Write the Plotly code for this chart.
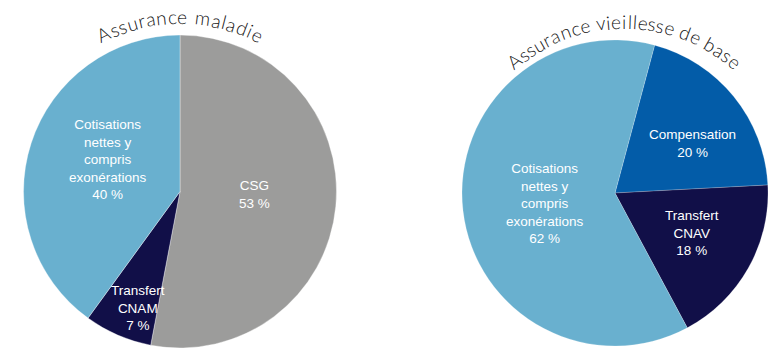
import math
import plotly.graph_objects as go

W, H = 768, 348

# ---- data ----
left_title = "Assurance maladie"
left_labels = ["CSG", "Transfert<br>CNAM", "Cotisations<br>nettes y<br>compris<br>exonérations"]
left_values = [53, 7, 40]

right_title = "Assurance vieillesse de base"
right_labels = ["Compensation", "Transfert<br>CNAV", "Cotisations<br>nettes y<br>compris<br>exonérations"]
right_values = [20, 18, 62]

# ---- styles ----
GRAY = "#9c9c9b"
NAVY = "#110f48"
LIGHT = "#69b0cf"
BLUE = "#035ca8"
left_colors = [GRAY, NAVY, LIGHT]
right_colors = [BLUE, NAVY, LIGHT]

# label centers in pixels (x, y from top)
left_label_pos = [(254, 195), (138, 308), (108, 159)]
right_label_pos = [(692, 143), (692, 233), (545, 203)]


def px_domain(cx, cy, r):
    return dict(x=[(cx - r) / W, (cx + r) / W], y=[1 - (cy + r) / H, 1 - (cy - r) / H])


fig = go.Figure()
fig.add_trace(go.Pie(
    labels=[l.replace("<br>", " ") for l in left_labels], values=left_values,
    marker=dict(colors=left_colors, line=dict(color="rgba(255,255,255,0.6)", width=0.6)),
    sort=False, direction="clockwise", rotation=0, textinfo="none",
    hoverinfo="label+percent", showlegend=False,
    domain=px_domain(180, 191.5, 156.5),
))
fig.add_trace(go.Pie(
    labels=[l.replace("<br>", " ") for l in right_labels], values=right_values,
    marker=dict(colors=right_colors, line=dict(color="rgba(255,255,255,0.4)", width=0.5)),
    sort=False, direction="clockwise", rotation=15, textinfo="none",
    hoverinfo="label+percent", showlegend=False,
    domain=dict(x=[462 / W, 1], y=[1 - 346 / H, 1 - 40 / H]),
))

annotations = []
lab_font = dict(family="Liberation Sans, Arial, sans-serif", size=13.5, color="white")
for labels, values, pos in [(left_labels, left_values, left_label_pos),
                            (right_labels, right_values, right_label_pos)]:
    for lbl, v, (x, y) in zip(labels, values, pos):
        annotations.append(dict(
            text=f"{lbl}<br>{v} %", x=x / W, y=1 - y / H, xref="paper", yref="paper",
            showarrow=False, xanchor="center", yanchor="middle", font=lab_font, align="center",
        ))

# approximate glyph widths (em) for spacing curved titles
CW = {"A": .67, "s": .40, "u": .55, "r": .37, "a": .50, "n": .55, "c": .46, "e": .52,
      " ": .26, "m": .83, "l": .25, "d": .56, "i": .25, "v": .50, "b": .56}


def curved(text, cx, cy, r, span_deg, size, center_deg=0.0):
    ws = [CW.get(ch, .5) for ch in text]
    tot = sum(ws)
    span = math.radians(span_deg)
    start = math.radians(center_deg) - span / 2
    out = []
    cum = 0.0
    rm = r + 0.3 * size
    for ch, w in zip(text, ws):
        a = start + (cum + w / 2) / tot * span
        cum += w
        if ch == " ":
            continue
        x = cx + rm * math.sin(a)
        y = cy - rm * math.cos(a)
        out.append(dict(
            text=ch, x=x / W, y=1 - y / H, xref="paper", yref="paper", showarrow=False,
            xanchor="center", yanchor="middle", textangle=math.degrees(a),
            font=dict(family="Lato, sans-serif", size=size, color="#151515", weight=300),
        ))
    return out


annotations += curved(left_title, 180, 192, 170, 56, 19)
annotations += curved(right_title, 624, 193, 166, 84, 19)

fig.update_layout(
    width=W, height=H, margin=dict(l=0, r=0, t=0, b=0),
    paper_bgcolor="white", plot_bgcolor="white",
    annotations=annotations,
)

fig.write_html("out.html")
